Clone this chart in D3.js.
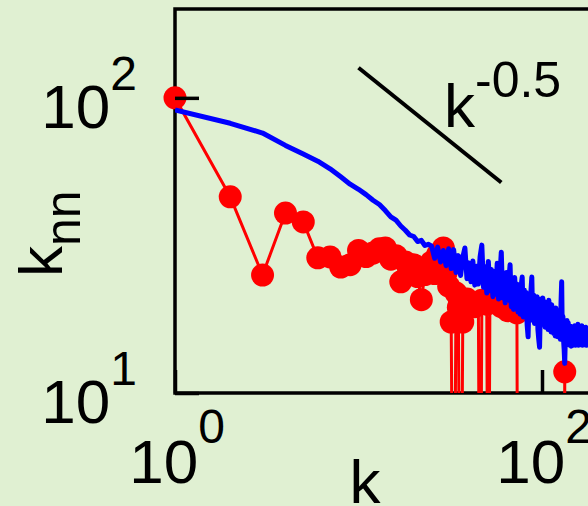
<!DOCTYPE html>
<html>
<head>
<meta charset="utf-8">
<script src="https://cdn.jsdelivr.net/npm/d3@7"></script>
<style>
  html, body { margin: 0; padding: 0; background: #e0f0d2; }
  svg { display: block; }
  text { font-family: "Liberation Sans", Arial, Helvetica, sans-serif; fill: #000; }
</style>
</head>
<body>
<svg id="chart" width="588" height="506"></svg>
<script>
// degree k vs mean neighbour degree k_nn, log-log

// blue curve: one value per degree k = 1, 2, 3, ...
const blueKnn = [
  91, 82, 76, 69, 64.5, 61, 57.5, 54, 51, 49,
  47, 45, 43.5, 41.5, 39.5, 38.5, 36.8, 35.6, 34.3, 33.9,
  32.6, 32.9, 31.6, 31.9, 31.5, 28.6, 31.2, 27.8, 30.4, 27.0,
  30.8, 26.4, 30.6, 25.6, 29.2, 25.0, 28.8, 31.0, 24.4, 27.6,
  23.8, 28.0, 23.2, 26.9, 23.4, 29.0, 31.7, 22.8, 26.8, 21.8,
  27.9, 22.2, 26.2, 21.2, 25.8, 21.6, 27.5, 20.8, 25.1, 30.0,
  21.0, 24.9, 20.2, 25.6, 20.6, 24.2, 27.2, 19.6, 23.8, 19.2,
  24.6, 19.8, 23.4, 18.8, 22.8, 18.5, 23.1, 24.7, 18.1, 22.4,
  18.9, 21.9, 17.0, 15.5, 21.4, 18.0, 22.0, 24.7, 17.6, 21.5,
  17.2, 20.9, 17.8, 21.2, 16.4, 15.2, 14.3, 19.6, 20.8, 17.1,
  21.0, 17.5, 20.4, 16.7, 20.1, 17.0, 19.8, 16.4, 20.6, 16.8,
  19.5, 16.1, 19.9, 16.5, 19.2, 15.9, 18.8, 15.6, 19.4, 16.3,
  18.6, 15.5, 19.0, 15.8, 18.5, 15.2, 20.4, 23.8, 15.9, 18.2,
  15.2, 14.1, 12.6, 15.3, 17.1, 15.0, 17.6, 14.8, 17.3, 14.6,
  16.9, 14.5, 16.6, 14.4, 16.8, 14.6, 16.4, 14.5, 16.7, 14.7,
  16.9, 14.5, 16.2, 14.6, 16.6, 14.8, 17.1, 14.5, 16.0, 14.7,
  16.8, 14.6, 16.1, 14.8, 16.9, 14.5, 15.9, 14.7, 16.5, 14.6,
  16.2, 14.8, 16.7, 14.5, 15.8, 14.7, 16.4, 14.8, 16.0, 14.7
];

// red markers: degrees present and their k_nn (0 = no neighbours measured)
const redK = [
  1, 2, 3, 4, 5, 6, 7, 8, 9, 10,
  11, 12, 13, 14, 15, 16, 17, 18, 19, 20,
  21, 22, 23, 24, 25, 26, 27, 28, 29, 30,
  31, 32, 33, 34, 35, 36, 37, 39, 43, 45,
  46, 47, 50, 51, 52, 55, 60, 65, 73, 74,
  132, 133, 134
];
const redKnn = [
  100, 46.2, 25.1, 40.7, 38.0, 28.7, 28.9, 26.7, 27.2, 30.4,
  29.0, 29.8, 30.8, 31.0, 28.4, 29.2, 23.8, 27.8, 26.5, 27.2,
  24.8, 20.7, 25.2, 26.4, 27.8, 25.4, 29.5, 27.2, 31.0, 25.5,
  23.0, 17.4, 0, 21.8, 19.5, 0, 17.4, 20.8, 19.6, 20.2,
  0, 20.6, 20.0, 0, 20.2, 20.8, 19.6, 19.0, 18.7, 0,
  0, 11.8, 0
];

const xTicks = [1, 100];
const yTicks = [10, 100];

// reference slope k^-0.5
const slopeK = [10, 60];
const slopeC = 400;
const slopeExp = -0.5;

const bg = "#e0f0d2";
const plotLeft = 175, plotTop = 9, plotBottom = 393;
const decadeX = 183.5;
const zeroFloor = 1; // zero values drop below the axis

const svg = d3.select("#chart");

const x = d3.scaleLog().domain([1, 1000]).range([plotLeft, plotLeft + 3 * decadeX]);
const y = d3.scaleLog().domain([10, 200]).range([plotBottom, plotTop]);

svg.append("rect").attr("width", 588).attr("height", 506).attr("fill", bg);

svg.append("clipPath").attr("id", "plot-clip")
  .append("rect")
  .attr("x", plotLeft).attr("y", plotTop)
  .attr("width", 3 * decadeX).attr("height", plotBottom - plotTop);

// axes box (right side runs off the page)
svg.append("rect")
  .attr("x", plotLeft).attr("y", plotTop)
  .attr("width", 3 * decadeX).attr("height", plotBottom - plotTop)
  .attr("fill", "none").attr("stroke", "#000").attr("stroke-width", 3.5);

const red = redK.map((k, i) => ({ k, v: redKnn[i] }));
const blue = blueKnn.map((v, i) => ({ k: i + 1, v }));

const line = d3.line()
  .x(d => x(d.k))
  .y(d => y(d.v > 0 ? d.v : zeroFloor));

svg.append("path")
  .attr("clip-path", "url(#plot-clip)")
  .attr("d", line(red))
  .attr("fill", "none")
  .attr("stroke", "#ff0000")
  .attr("stroke-width", 3)
  .attr("stroke-linejoin", "round");

svg.append("g")
  .selectAll("circle")
  .data(red.filter(d => d.v > 0))
  .join("circle")
  .attr("cx", d => x(d.k))
  .attr("cy", d => y(d.v))
  .attr("r", 11.5)
  .attr("fill", "#ff0000");

svg.append("path")
  .attr("clip-path", "url(#plot-clip)")
  .attr("d", line(blue))
  .attr("fill", "none")
  .attr("stroke", "#0000ff")
  .attr("stroke-width", 5)
  .attr("stroke-linejoin", "round");

// inward ticks
const yAxis = svg.append("g")
  .attr("transform", `translate(${plotLeft},0)`)
  .call(d3.axisLeft(y).tickValues(yTicks).tickSize(-24).tickFormat(""));
const xAxis = svg.append("g")
  .attr("transform", `translate(0,${plotBottom})`)
  .call(d3.axisBottom(x).tickValues(xTicks).tickSize(-23).tickFormat(""));
[yAxis, xAxis].forEach(ax => {
  ax.select(".domain").remove();
  ax.selectAll(".tick line").attr("stroke", "#000").attr("stroke-width", 3.5);
});

// 10^n labels
function powerLabel(sel, v, supDy) {
  sel.append("tspan").attr("font-size", 62).text("10");
  sel.append("tspan").attr("font-size", 48).attr("dy", supDy).text(Math.round(Math.log10(v)));
}

yTicks.forEach(v => {
  const t = svg.append("text")
    .attr("x", 137)
    .attr("y", y(v) + 30)
    .attr("text-anchor", "end");
  powerLabel(t, v, -38);
});

xTicks.forEach(v => {
  const t = svg.append("text")
    .attr("x", x(v) + 2)
    .attr("y", 483)
    .attr("text-anchor", "middle");
  powerLabel(t, v, -40);
});

// axis titles
svg.append("text")
  .attr("x", 365).attr("y", 503)
  .attr("text-anchor", "middle")
  .attr("font-size", 62)
  .text("k");

const yTitle = svg.append("text")
  .attr("transform", "translate(62,277) rotate(-90)");
yTitle.append("tspan").attr("font-size", 62).text("k");
yTitle.append("tspan").attr("font-size", 50).attr("dy", 18).text("nn");

// slope guide
svg.append("path")
  .attr("d", d3.line()
    .x(k => x(k))
    .y(k => y(slopeC * Math.pow(k, slopeExp)))(slopeK))
  .attr("stroke", "#000")
  .attr("stroke-width", 4)
  .attr("fill", "none");

const slopeText = svg.append("text").attr("x", 444).attr("y", 127);
slopeText.append("tspan").attr("font-size", 62).text("k");
slopeText.append("tspan").attr("font-size", 50).attr("dy", -30).text(slopeExp);
</script>
</body>
</html>
